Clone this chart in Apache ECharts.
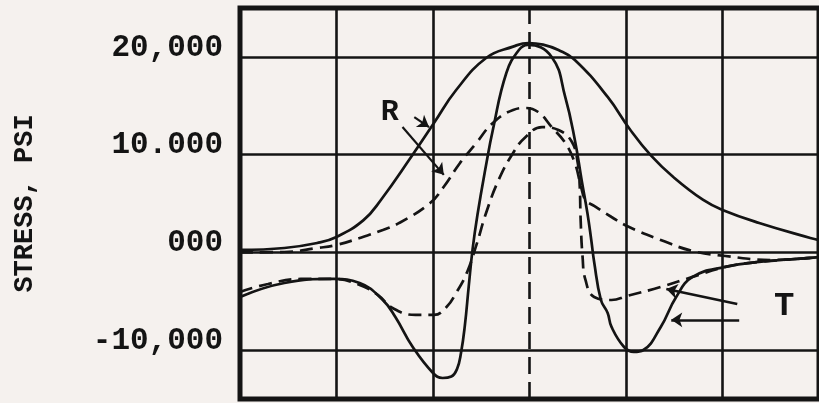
<!DOCTYPE html>
<html><head><meta charset="utf-8">
<script src="https://cdn.jsdelivr.net/npm/echarts@6/dist/echarts.min.js"></script>
<style>html,body{margin:0;padding:0;background:#f5f1ee;}#c{width:819px;height:403px;}</style>
</head><body><div id="c"></div>
<script>
// Tick values and labels (as printed)
const yTickValues = [-10000, 0, 10000, 20000];
const yTickLabels = ['-10,000', '000', '10.000', '20,000'];
const xGridLines = [1, 2, 3, 4, 5];
const xCenterLine = 3;
const yAxisTitle = 'STRESS, PSI';

// Curves: [x position (grid units), stress psi]
const solidR = [
  [0, 250], [0.46, 450], [0.80, 960], [1.00, 1580], [1.28, 3300], [1.46, 5360],
  [1.78, 9860], [2.01, 13240], [2.24, 16610], [2.55, 19890], [2.83, 21050],
  [2.99, 21420], [3.14, 21250], [3.30, 20700], [3.47, 19690], [3.81, 15900],
  [4.04, 12600], [4.26, 9900], [4.49, 7710], [4.80, 5360], [5.00, 4340],
  [5.38, 3010], [5.91, 1470], [6.0, 1250]
];
const dashedR = [
  [0, 0], [0.46, 40], [0.80, 450], [1.00, 760], [1.24, 1470], [1.48, 2290],
  [1.65, 3010], [1.97, 5050], [2.11, 6690], [2.28, 9150], [2.45, 11200],
  [2.62, 13240], [2.83, 14570], [2.96, 14770], [3.09, 14360], [3.23, 12820],
  [3.37, 11200], [3.47, 9150], [3.53, 6900], [3.58, 5360], [3.67, 4750],
  [3.85, 3620], [4.01, 2700], [4.36, 1270], [4.69, 140], [5.03, -370],
  [5.51, -780], [5.91, -570], [6.0, -470]
];
const solidT = [
  [0, -4560], [0.46, -3130], [0.97, -2720], [1.24, -3130], [1.48, -4870],
  [1.61, -6610], [1.79, -9680], [2.00, -12340], [2.10, -12850], [2.19, -12700],
  [2.25, -11900], [2.29, -10300], [2.33, -7500], [2.37, -3500], [2.41, 300],
  [2.46, 3800], [2.55, 8940], [2.62, 12520], [2.76, 18350], [2.89, 20700],
  [2.98, 21220], [3.23, 19990], [3.37, 15900], [3.47, 11500], [3.54, 7410],
  [3.60, 4030], [3.64, 1270], [3.67, -980], [3.74, -4870], [3.81, -6200],
  [3.85, -7630], [3.98, -9680], [4.08, -10180], [4.18, -9990], [4.36, -7630],
  [4.52, -4560], [4.69, -2510], [5.03, -1490], [5.38, -980], [5.91, -570], [6.0, -470]
];
const dashedT = [
  [0, -4050], [0.29, -3230], [0.63, -2720], [0.97, -2720], [1.24, -3330],
  [1.43, -4360], [1.58, -5690], [1.82, -6400], [2.01, -6400], [2.14, -5590],
  [2.24, -4150], [2.35, -2100], [2.45, 760], [2.55, 4030], [2.68, 7410],
  [2.83, 10170], [2.96, 11810], [3.13, 12820], [3.30, 12520], [3.44, 11290],
  [3.50, 9150], [3.52, 6900], [3.53, 3320], [3.55, -470], [3.58, -2820],
  [3.67, -4560], [3.85, -4870], [4.01, -4460], [4.36, -3540], [4.69, -2510],
  [5.03, -1490], [5.38, -980], [5.91, -570], [6.0, -470]
];

const INK = '#141414';
const FONT = "'Liberation Mono', 'DejaVu Sans Mono', monospace";

const chart = echarts.init(document.getElementById('c'), null, {renderer: 'canvas'});

function curve(name, data, dashed, extra) {
  return Object.assign({
    name: name, type: 'line', data: data, symbol: 'none',
    smooth: 0.45, silent: true,
    lineStyle: {color: INK, width: 2.7, type: dashed ? [13, 7] : 'solid'},
    z: 3
  }, extra || {});
}

const gridLines = yTickValues.map(v => ({yAxis: v}))
  .concat(xGridLines.map(v => v === xCenterLine
    ? {xAxis: v, lineStyle: {type: [17, 8], width: 2.6}}
    : {xAxis: v}));

chart.setOption({
  animation: false,
  backgroundColor: '#f5f1ee',
  grid: {left: 240, top: 8, width: 588, height: 391, show: true,
         borderColor: INK, borderWidth: 5, backgroundColor: 'transparent'},
  xAxis: {type: 'value', min: 0, max: 6, interval: 1,
          axisLine: {show: false}, axisTick: {show: false},
          axisLabel: {show: false}, splitLine: {show: false}},
  yAxis: {type: 'value', min: -15000, max: 25000, interval: 5000,
          axisLine: {show: false}, axisTick: {show: false}, splitLine: {show: false},
          axisLabel: {
            margin: 17, fontSize: 31, fontWeight: 'bold', fontFamily: FONT, color: INK,
            verticalAlign: 'bottom', lineHeight: 18,
            formatter: v => { const i = yTickValues.indexOf(v); return i >= 0 ? yTickLabels[i] : ''; }
          },
          name: yAxisTitle, nameLocation: 'middle', nameRotate: 90, nameGap: 201,
          nameTextStyle: {fontSize: 27, fontWeight: 'bold', fontFamily: FONT, color: INK}
  },
  series: [
    curve('R solid', solidR, false, {
      markLine: {silent: true, symbol: ['none', 'none'], label: {show: false},
                 lineStyle: {color: INK, width: 2.6, type: 'solid'}, data: gridLines, z: 1}
    }),
    curve('R dashed', dashedR, true, {
      markLine: {silent: true, symbol: ['none', 'arrow'], symbolSize: 11, label: {show: false},
                 lineStyle: {color: INK, width: 2.2, type: 'solid'},
                 data: [
                   [{coord: [1.806, 13840]}, {coord: [1.959, 12820]}],
                   [{coord: [1.684, 12820]}, {coord: [2.112, 7930]}]
                 ]},
      markPoint: {silent: true, symbol: 'circle', symbolSize: 1, itemStyle: {color: 'rgba(0,0,0,0)'},
                  label: {show: true, position: 'inside', formatter: 'R', fontSize: 30,
                          fontWeight: 'bold', fontFamily: FONT, color: INK},
                  data: [{coord: [1.551, 14360]}]}
    }),
    curve('T solid', solidT, false),
    curve('T dashed', dashedT, true, {
      markLine: {silent: true, symbol: ['none', 'arrow'], symbolSize: 11, label: {show: false},
                 lineStyle: {color: INK, width: 2.6, type: 'solid'},
                 data: [
                   [{coord: [5.153, -5280]}, {coord: [4.418, -3740]}],
                   [{coord: [5.173, -6900]}, {coord: [4.469, -6900]}]
                 ]},
      markPoint: {silent: true, symbol: 'circle', symbolSize: 1, itemStyle: {color: 'rgba(0,0,0,0)'},
                  label: {show: true, position: 'inside', formatter: 'T', fontSize: 34,
                          fontWeight: 'bold', fontFamily: FONT, color: INK},
                  data: [{coord: [5.64, -5580]}]}
    })
  ]
});
</script>
</body></html>
